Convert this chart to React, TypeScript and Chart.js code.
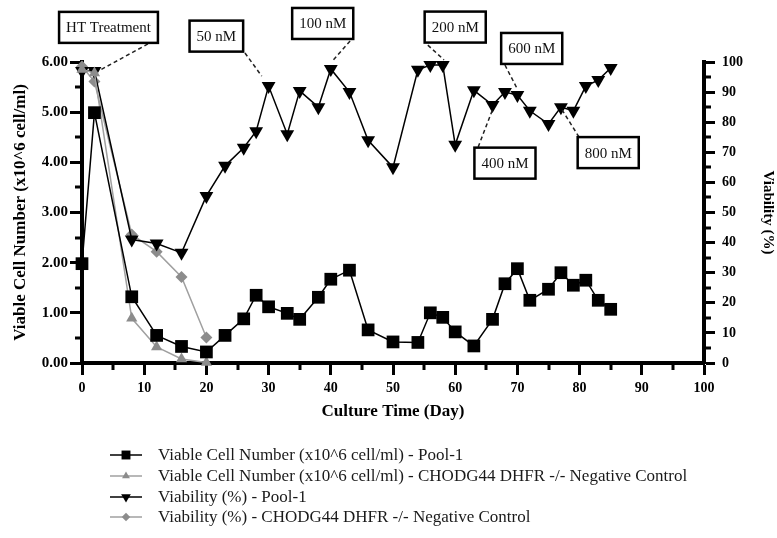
import React, { useEffect, useRef } from "react";
import { Chart, registerables } from "chart.js";
import { drawPoint } from "chart.js/helpers";

Chart.register(...registerables);

const FONT = "'Liberation Serif', 'Times New Roman', serif";

// Pool-1 sampling days
const poolDays = [0, 2, 8, 12, 16, 20, 23, 26, 28, 30, 33, 35, 38, 40, 43, 46, 50, 54, 56, 58, 60, 63, 66, 68, 70, 72, 75, 77, 79, 81, 83, 85];
// Viable cell number (x10^6 cell/ml) - Pool-1
const poolVCN = [1.98, 4.99, 1.32, 0.55, 0.33, 0.22, 0.55, 0.88, 1.35, 1.12, 0.99, 0.87, 1.31, 1.67, 1.85, 0.66, 0.42, 0.41, 1.0, 0.91, 0.62, 0.34, 0.87, 1.58, 1.88, 1.25, 1.47, 1.8, 1.55, 1.65, 1.25, 1.07];
// Viability (%) - Pool-1
const poolViab = [97, 97, 41, 39.7, 36.6, 55.5, 65.5, 71.5, 77, 92, 76, 90.4, 85, 97.7, 90, 74, 65, 97.4, 99, 99, 72.5, 90.6, 85.7, 90, 89, 83.8, 79.4, 85, 83.8, 92, 94, 98];

// Negative control sampling days
const ctrlDays = [0, 2, 8, 12, 16, 20];
const ctrlVCN = [5.85, 5.78, 0.89, 0.32, 0.08, 0.01];
const ctrlViab = [98.5, 93.5, 42.7, 37, 28.6, 8.5];

const seriesLabels = [
  "Viable Cell Number (x10^6 cell/ml) - Pool-1",
  "Viable Cell Number (x10^6 cell/ml) - CHODG44 DHFR -/- Negative Control",
  "Viability (%) - Pool-1",
  "Viability (%) - CHODG44 DHFR -/- Negative Control",
];

const leftTicks = [0, 1, 2, 3, 4, 5, 6];
const rightTicks = [0, 10, 20, 30, 40, 50, 60, 70, 80, 90, 100];

// annotation labels (box centre and leader-line ends in day / viability % units)
const annTexts = ["HT Treatment", "50 nM", "100 nM", "200 nM", "600 nM", "400 nM", "800 nM"];
const annBox = [[4.26, 111.5], [21.6, 108.6], [38.7, 112.8], [60, 111.6], [72.3, 104.5], [68, 66.4], [84.6, 69.9]];
const annFrom = [[10.6, 106], [26.2, 103], [43.1, 107], [55.6, 105.6], [68, 99], [63.7, 71.8], [79.9, 75.1]];
const annTo = [[2.9, 97.3], [28.9, 95.3], [40.4, 100.7], [58.2, 100.7], [69.9, 91.4], [66.1, 84.7], [77.2, 84]];

const BLACK = "#000000";
const GREY = "#8c8c8c";
const GREY_LINE = "#a0a0a0";

const minorTicksPlugin = {
  id: "minorTicks",
  afterDraw(chart: any) {
    const { ctx, chartArea, scales } = chart;
    ctx.save();
    ctx.strokeStyle = BLACK;
    ctx.lineWidth = 3;
    ctx.beginPath();
    for (let v = 0.5; v < 6; v += 1) {
      const y = Math.round(scales.y.getPixelForValue(v));
      ctx.moveTo(chartArea.left - 7, y);
      ctx.lineTo(chartArea.left, y);
    }
    for (let v = 5; v < 100; v += 10) {
      const y = Math.round(scales.y1.getPixelForValue(v));
      ctx.moveTo(chartArea.right, y);
      ctx.lineTo(chartArea.right + 7, y);
    }
    for (let v = 5; v < 100; v += 10) {
      const x = Math.round(scales.x.getPixelForValue(v));
      ctx.moveTo(x, chartArea.bottom);
      ctx.lineTo(x, chartArea.bottom + 7);
    }
    ctx.stroke();
    ctx.restore();
  },
};

const annotationPlugin = {
  id: "boxAnnotations",
  afterDraw(chart: any) {
    const { ctx, scales } = chart;
    const px = (d: number) => scales.x.getPixelForValue(d);
    const py = (v: number) => scales.y1.getPixelForValue(v);
    ctx.save();
    ctx.font = `15px ${FONT}`;
    annTexts.forEach((t, i) => {
      ctx.setLineDash([4, 3]);
      ctx.lineWidth = 1.5;
      ctx.strokeStyle = "#222";
      ctx.beginPath();
      ctx.moveTo(px(annFrom[i][0]), py(annFrom[i][1]));
      ctx.lineTo(px(annTo[i][0]), py(annTo[i][1]));
      ctx.stroke();
      ctx.setLineDash([]);
      const w = ctx.measureText(t).width + 14;
      const h = 31;
      const cx = px(annBox[i][0]);
      const cy = py(annBox[i][1]);
      ctx.fillStyle = "#fff";
      ctx.fillRect(cx - w / 2, cy - h / 2, w, h);
      ctx.lineWidth = 2.5;
      ctx.strokeStyle = BLACK;
      ctx.strokeRect(cx - w / 2, cy - h / 2, w, h);
      ctx.fillStyle = "#111";
      ctx.textAlign = "center";
      ctx.textBaseline = "middle";
      ctx.fillText(t, cx, cy + 1);
    });
    ctx.restore();
  },
};

const legendPlugin = {
  id: "stackLegend",
  afterDraw(chart: any) {
    const { ctx } = chart;
    const x0 = 110;
    const rowY = [455, 476, 497, 517];
    ctx.save();
    ctx.font = `17px ${FONT}`;
    ctx.textBaseline = "middle";
    ctx.textAlign = "left";
    chart.data.datasets.forEach((ds: any, i: number) => {
      const y = rowY[i];
      ctx.strokeStyle = ds.borderColor;
      ctx.lineWidth = 1.5;
      ctx.beginPath();
      ctx.moveTo(x0, y);
      ctx.lineTo(x0 + 32, y);
      ctx.stroke();
      ctx.fillStyle = ds.pointBackgroundColor;
      ctx.strokeStyle = ds.pointBackgroundColor;
      drawPoint(ctx, { pointStyle: ds.pointStyle, rotation: ds.pointRotation || 0, radius: ds.pointRadius * 0.7, borderWidth: 0 }, x0 + 16, y);
      ctx.fillStyle = "#1a1a1a";
      ctx.fillText(ds.label, 158, y + 1);
    });
    ctx.restore();
  },
};

export default function App() {
  const ref = useRef<HTMLCanvasElement | null>(null);
  useEffect(() => {
    if (!ref.current) return;
    const pts = (xs: number[], ys: number[]) => xs.map((x, i) => ({ x, y: ys[i] }));
    const tickFont = { family: FONT, size: 14, weight: "bold" as const };
    const leftTickFont = { family: FONT, size: 15, weight: "bold" as const };
    const titleFont = { family: FONT, size: 17, weight: "bold" as const };
    const rightTitleFont = { family: FONT, size: 15, weight: "bold" as const };
    const chart = new Chart(ref.current, {
      type: "line",
      data: {
        datasets: [
          {
            label: seriesLabels[0],
            data: pts(poolDays, poolVCN),
            yAxisID: "y",
            borderColor: BLACK,
            backgroundColor: BLACK,
            pointBackgroundColor: BLACK,
            pointBorderColor: BLACK,
            borderWidth: 1.5,
            pointStyle: "rect",
            pointRadius: 9,
            pointBorderWidth: 0,
            clip: false,
          } as any,
          {
            label: seriesLabels[1],
            data: pts(ctrlDays, ctrlVCN),
            yAxisID: "y",
            borderColor: GREY_LINE,
            backgroundColor: GREY,
            pointBackgroundColor: GREY,
            pointBorderColor: GREY,
            borderWidth: 1.5,
            pointStyle: "triangle",
            pointRadius: 6.5,
            pointBorderWidth: 0,
            clip: false,
          },
          {
            label: seriesLabels[2],
            data: pts(poolDays, poolViab),
            yAxisID: "y1",
            borderColor: BLACK,
            backgroundColor: BLACK,
            pointBackgroundColor: BLACK,
            pointBorderColor: BLACK,
            borderWidth: 1.5,
            pointStyle: "triangle",
            pointRotation: 180,
            pointRadius: 8,
            pointBorderWidth: 0,
            clip: false,
          },
          {
            label: seriesLabels[3],
            data: pts(ctrlDays, ctrlViab),
            yAxisID: "y1",
            borderColor: GREY_LINE,
            backgroundColor: GREY,
            pointBackgroundColor: GREY,
            pointBorderColor: GREY,
            borderWidth: 1.5,
            pointStyle: "rectRot",
            pointRadius: 6,
            pointBorderWidth: 0,
            clip: false,
          },
        ],
      },
      options: {
        animation: false,
        responsive: true,
        maintainAspectRatio: false,
        layout: { padding: { left: 0, right: 0, top: 62, bottom: 113 } },
        plugins: { legend: { display: false }, tooltip: { enabled: false } },
        elements: { line: { tension: 0 } },
        scales: {
          x: {
            type: "linear",
            position: "bottom",
            min: 0,
            max: 100,
            ticks: { stepSize: 10, color: BLACK, font: tickFont, padding: 5, maxRotation: 0 },
            grid: { drawOnChartArea: false, drawTicks: true, tickLength: 12, tickWidth: 3, tickColor: BLACK },
            border: { display: true, width: 4, color: BLACK },
            title: { display: true, text: "Culture Time (Day)", color: BLACK, font: titleFont, padding: { top: 4, bottom: 3 } },
            afterFit: (s: any) => { s.height = 62; },
          },
          y: {
            type: "linear",
            position: "left",
            min: 0,
            max: 6,
            afterBuildTicks: (s: any) => { s.ticks = leftTicks.map((v) => ({ value: v })); },
            ticks: { color: BLACK, font: leftTickFont, padding: 2, callback: (v: any) => Number(v).toFixed(2) },
            grid: { drawOnChartArea: false, drawTicks: true, tickLength: 12, tickWidth: 3, tickColor: BLACK },
            border: { display: true, width: 4, color: BLACK },
            title: { display: true, text: "Viable Cell Number (x10^6 cell/ml)", color: BLACK, font: titleFont, padding: { top: 10, bottom: 0 } },
            afterFit: (s: any) => { s.width = 82; },
          },
          y1: {
            type: "linear",
            position: "right",
            min: 0,
            max: 100,
            afterBuildTicks: (s: any) => { s.ticks = rightTicks.map((v) => ({ value: v })); },
            ticks: { color: BLACK, font: tickFont, padding: 7 },
            grid: { drawOnChartArea: false, drawTicks: true, tickLength: 11, tickWidth: 3, tickColor: BLACK },
            border: { display: true, width: 4, color: BLACK },
            title: { display: true, text: "Viability (%)", color: BLACK, font: rightTitleFont, padding: { top: 0, bottom: 0 } },
            afterFit: (s: any) => { s.width = 73; },
          },
        },
      },
      plugins: [minorTicksPlugin, annotationPlugin, legendPlugin],
    } as any);
    return () => chart.destroy();
  }, []);
  return (
    <div style={{ position: "fixed", left: 0, top: 0, width: 777, height: 538, background: "#fff" }}>
      <canvas ref={ref} />
    </div>
  );
}
